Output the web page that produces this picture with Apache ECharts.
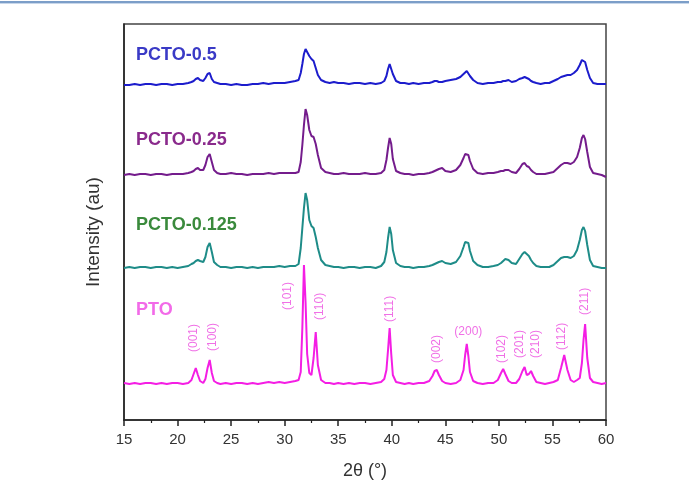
<!DOCTYPE html>
<html><head><meta charset="utf-8">
<script src="https://cdn.jsdelivr.net/npm/echarts@6.0.0/dist/echarts.min.js"></script>
<style>html,body{margin:0;padding:0;background:#fff}#c{width:689px;height:480px}</style>
</head><body><div id="c"></div>
<script>
// 2θ sampling positions (degrees)
const twoTheta = [
  15, 15.5, 16, 16.5, 17, 17.5, 18, 18.5, 19, 19.5, 20, 20.5, 21,
  21.3, 21.5, 21.7, 21.9, 22.1, 22.4, 22.6, 22.8, 23.0, 23.2, 23.4, 23.7, 24,
  24.5, 25, 25.5, 26, 26.5, 27, 27.5, 28, 28.5, 29, 29.5, 30, 30.5, 31,
  31.3, 31.5, 31.65, 31.8, 31.95, 32.1, 32.3, 32.5, 32.7, 32.9, 33.1, 33.4, 33.8, 34.2, 34.6,
  35, 35.5, 36, 36.5, 37, 37.5, 38, 38.5, 39,
  39.3, 39.5, 39.65, 39.8, 39.95, 40.1, 40.4, 40.8, 41.2, 41.6,
  42, 42.5, 43, 43.5, 43.8, 44.0, 44.2, 44.4, 44.7, 45, 45.5,
  46, 46.4, 46.7, 46.85, 47.0, 47.15, 47.3, 47.6, 48, 48.5, 49, 49.5,
  49.9, 50.2, 50.4, 50.6, 50.9, 51.2, 51.6, 51.9, 52.2, 52.4, 52.6, 52.8, 53.0, 53.2, 53.5, 53.9, 54.3, 54.7, 55.1, 55.5,
  55.8, 56.1, 56.4, 56.7, 57.0, 57.3, 57.55, 57.75, 57.9, 58.05, 58.25, 58.5, 58.8, 59.2, 59.6, 60
];
// Intensities (a.u., stacked with offsets as in the figure)
const iPTO = [
  37,36,37,36,37,37,36,37,36,37,37,36,37,
  40,46,52,45,39,37,41,52,60,47,39,37,36,
  37,36,37,37,36,37,36,37,38,37,38,37,38,39,
  40,48,92,155,118,66,47,45,62,88,55,40,37,37,36,
  37,36,37,36,37,37,36,37,38,
  41,50,70,92,66,45,38,37,36,37,
  36,37,37,39,44,49,50,45,39,37,36,
  37,40,50,65,76,64,48,39,37,36,37,37,
  40,47,51,46,39,37,37,41,49,53,45,46,49,44,38,37,36,37,38,40,
  52,65,50,40,38,40,42,57,80,96,62,42,38,37,36,37
];
const iPCTO125 = [
  152,153,152,153,153,152,153,153,152,153,152,153,154,
  156,157,159,160,159,158,163,173,177,168,158,155,153,
  153,152,153,153,152,153,152,153,153,153,154,153,154,154,
  156,172,192,212,227,220,200,194,192,183,172,160,155,154,153,
  153,152,153,153,152,153,153,152,154,
  158,168,182,193,186,170,157,154,153,153,
  152,153,153,154,155,156,157,158,159,157,156,
  158,164,173,178,180,177,169,159,155,153,153,154,
  155,157,159,161,160,157,156,161,166,168,166,164,160,157,154,153,153,153,155,159,
  162,163,163,162,164,170,180,190,193,189,175,160,154,153,152,152
];
const iPCTO25 = [
  245,246,245,246,246,245,246,246,245,246,246,246,247,
  248,249,251,252,250,250,255,263,266,258,250,247,246,
  246,247,246,246,245,246,246,246,247,246,247,247,247,247,
  248,258,275,295,311,305,290,284,283,276,265,252,248,247,246,
  246,247,246,246,246,247,246,246,247,
  250,260,272,282,276,261,249,247,246,246,
  245,246,246,247,248,249,250,251,252,249,248,
  250,255,262,266,268,265,259,251,247,246,247,247,
  248,249,249,250,250,248,247,251,256,257,254,253,250,248,246,246,246,247,248,252,
  255,257,257,256,258,263,272,282,285,281,268,253,247,246,245,243
];
const iPCTO5 = [
  335,335,336,335,336,336,335,336,336,335,336,336,337,
  338,339,341,342,340,339,342,346,347,341,338,337,336,
  336,335,336,335,335,336,336,337,336,337,337,337,338,339,
  340,347,356,366,371,371,364,361,359,352,345,340,338,337,338,
  337,337,336,337,337,336,337,336,337,
  339,344,351,356,354,346,339,337,337,336,
  337,336,337,337,338,339,339,338,338,339,340,
  341,343,346,348,349,347,344,340,337,336,337,337,
  338,338,339,339,340,338,339,341,342,343,342,341,339,338,337,336,337,337,339,341,
  343,344,345,345,347,350,355,360,361,358,350,342,337,336,336,336
];
const seriesNames = ['PCTO-0.5', 'PCTO-0.25', 'PCTO-0.125', 'PTO'];
// hkl annotations: [label, 2θ, intensity at label base, rotated?]
const hklLabels = [
  ['(001)', 21.47, 68, 1], ['(100)', 23.28, 69, 1], ['(101)', 30.31, 110, 1],
  ['(110)', 33.24, 100, 1], ['(111)', 39.77, 98, 1], ['(002)', 44.2, 57, 1],
  ['(200)', 47.15, 88, 0], ['(102)', 50.27, 57, 1], ['(201)', 51.97, 62, 1],
  ['(210)', 53.44, 62, 1], ['(112)', 55.87, 70, 1], ['(211)', 58.04, 105, 1]
];

const colors = {
  'PCTO-0.5': '#1c1ccc', 'PCTO-0.25': '#741c8c', 'PCTO-0.125': '#1e8c88', 'PTO': '#f41ee4'
};
const textColors = {
  'PCTO-0.5': '#3a3ac6', 'PCTO-0.25': '#8a2a8c', 'PCTO-0.125': '#3a8a3c', 'PTO': '#f26ae8'
};
const dataMap = { 'PCTO-0.5': iPCTO5, 'PCTO-0.25': iPCTO25, 'PCTO-0.125': iPCTO125, 'PTO': iPTO };
const labelCenterY = { 'PCTO-0.5': 53, 'PCTO-0.25': 138, 'PCTO-0.125': 223, 'PTO': 308 };

function pairs(arr) { return twoTheta.map((x, i) => [x, arr[i]]); }

const FONT = '"Liberation Sans", Arial, sans-serif';
const chart = echarts.init(document.getElementById('c'), null, { renderer: 'canvas' });

const series = seriesNames.map(n => {
  const s = {
    name: n, type: 'line', data: pairs(dataMap[n]), showSymbol: false, symbol: 'none',
    lineStyle: { color: colors[n], width: 2 }, itemStyle: { color: colors[n] },
    animation: false, silent: true
  };
  if (n === 'PTO') {
    s.markPoint = {
      symbol: 'circle', symbolSize: 0, silent: true, animation: false,
      itemStyle: { color: 'rgba(0,0,0,0)' },
      label: { show: true, position: 'inside', formatter: '{b}', color: '#f070e6', fontSize: 12, fontFamily: FONT },
      data: hklLabels.map(h => ({
        name: h[0], coord: [h[1], h[2]],
        label: { rotate: h[3] ? 90 : 0, align: h[3] ? 'left' : 'center', verticalAlign: 'middle' }
      }))
    };
  }
  return s;
});

const graphics = [
  { type: 'rect', shape: { x: 0, y: 1, width: 689, height: 2 }, style: { fill: '#7c9ec8' }, silent: true },
  { type: 'rect', shape: { x: 0, y: 3, width: 689, height: 1 }, style: { fill: '#c8d7ea' }, silent: true }
].concat(seriesNames.map(n => ({
  type: 'text', left: 136, top: labelCenterY[n] - 7, silent: true,
  style: { text: n, fill: textColors[n], fontSize: 18, fontWeight: 'bold', fontFamily: FONT }
})));

chart.setOption({
  animation: false,
  backgroundColor: '#ffffff',
  grid: {
    left: 124, right: 83, top: 24, bottom: 60, containLabel: false, outerBoundsMode: 'none',
    show: true, borderColor: '#444', borderWidth: 1.5, backgroundColor: 'transparent'
  },
  xAxis: {
    type: 'value', min: 15, max: 60, interval: 5,
    axisLine: { show: true, onZero: false, lineStyle: { color: '#222', width: 1.5 } },
    axisTick: { show: true, inside: false, length: 6, lineStyle: { color: '#222', width: 1.5 } },
    minorTick: { show: true, splitNumber: 2, length: 3, lineStyle: { color: '#222', width: 1.2 } },
    splitLine: { show: false },
    axisLabel: { color: '#333', fontSize: 15, margin: 12, fontFamily: FONT },
    name: '2θ (°)', nameLocation: 'middle', nameGap: 42,
    nameTextStyle: { fontSize: 18, color: '#333', fontFamily: FONT }
  },
  yAxis: {
    type: 'value', min: 0, max: 396,
    axisLine: { show: true, onZero: false, lineStyle: { color: '#222', width: 1.5 } },
    axisTick: { show: false }, axisLabel: { show: false }, splitLine: { show: false },
    name: 'Intensity (au)', nameLocation: 'middle', nameGap: 21, nameRotate: 90,
    nameTextStyle: { fontSize: 19, color: '#333', fontFamily: FONT, padding: [0, 20, 0, 0] }
  },
  graphic: graphics,
  series: series
});
</script></body></html>
